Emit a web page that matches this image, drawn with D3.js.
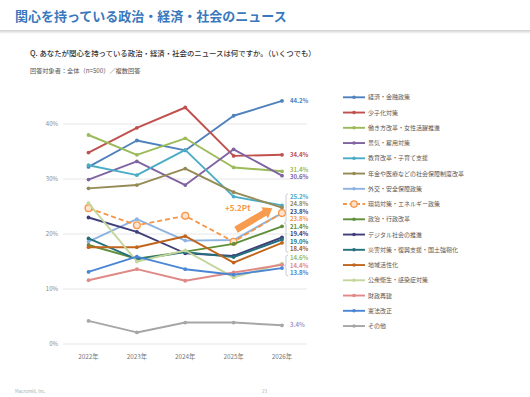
<!DOCTYPE html>
<html>
<head>
<meta charset="utf-8">
<script src="https://cdn.jsdelivr.net/npm/d3@7"></script>
<style>
  html, body { margin: 0; padding: 0; background: #fff; }
  svg { display: block; font-family: "Noto Sans CJK JP", "Noto Sans", sans-serif; }
</style>
</head>
<body>
<div id="chart"></div>
<script>
// Data
const years = ['2022年', '2023年', '2024年', '2025年', '2026年']
const seriesNames = [
  '経済・金融政策',
  '少子化対策',
  '働き方改革・女性活躍推進',
  '景気・雇用対策',
  '教育改革・子育て支援',
  '年金や医療などの社会保障制度改革',
  '外交・安全保障政策',
  '環境対策・エネルギー政策',
  '政治・行政改革',
  'デジタル社会の推進',
  '災害対策・復興支援・国土強靭化',
  '地域活性化',
  '公衆衛生・感染症対策',
  '財政再建',
  '憲法改正',
  'その他'
]
const seriesValues = [
  [32.2, 37.0, 35.2, 41.5, 44.2],
  [34.8, 39.3, 43.0, 34.2, 34.4],
  [38.0, 34.4, 37.4, 32.1, 31.4],
  [29.9, 33.2, 28.9, 35.4, 30.6],
  [32.5, 30.7, 35.3, 26.8, 25.2],
  [28.3, 28.9, 31.9, 27.6, 24.8],
  [18.6, 22.7, 18.8, 18.9, 23.8],
  [24.7, 21.6, 23.3, 18.6, 23.8],
  [18.0, 15.5, 16.8, 18.2, 21.4],
  [23.0, 20.4, 16.5, 16.0, 19.4],
  [19.2, 15.4, 16.7, 15.8, 19.0],
  [17.6, 17.6, 19.6, 14.8, 18.4],
  [25.6, 15.0, 17.0, 12.1, 14.6],
  [11.6, 13.6, 11.5, 13.0, 14.4],
  [13.1, 15.9, 13.6, 12.6, 13.8],
  [4.2, 2.1, 3.9, 3.9, 3.4]
]
const yTicks = [0, 10, 20, 30, 40]
const highlightIndex = 7   // 環境対策・エネルギー政策
const annotationText = '+5.2Pt'

// Styles
const lineColors = [
  '#4f81bd', '#c0504d', '#9bbb59', '#8064a2', '#4bacc6', '#948a54', '#8db3e2', '#f79646',
  '#5f8f3a', '#3f3d7a', '#25707e', '#c0651d', '#c3d69b', '#e08a88', '#4a86d4', '#a6a6a6'
]
const labelColors = [
  '#4f81bd', '#c0504d', '#9bbb59', '#8064a2', '#4bacc6', '#948a54', '#3a4a86', '#f79646',
  '#5f8f3a', '#3f3d7a', '#25707e', '#a0622a', '#9bbb59', '#e08a88', '#4a86d4', '#a29bc9'
]

const width = 530
const height = 397

const svg = d3.select('#chart')
  .append('svg')
  .attr('width', width)
  .attr('height', height)
  .attr('viewBox', [0, 0, width, height])

// Header
const defs = svg.append('defs')
const shadow = defs.append('linearGradient').attr('id', 'hdr-shadow').attr('x1', 0).attr('x2', 0).attr('y1', 0).attr('y2', 1)
shadow.append('stop').attr('offset', '0%').attr('stop-color', '#cfcfcf')
shadow.append('stop').attr('offset', '100%').attr('stop-color', '#ffffff')

svg.append('rect').attr('x', 0).attr('y', 30).attr('width', width).attr('height', 4).attr('fill', 'url(#hdr-shadow)')

svg.append('text')
  .attr('x', 15).attr('y', 21)
  .attr('fill', '#3a78bd')
  .attr('font-size', '13px')
  .attr('font-weight', '700')
  .text('関心を持っている政治・経済・社会のニュース')

svg.append('text')
  .attr('x', 30).attr('y', 56)
  .attr('fill', '#333')
  .attr('font-size', '7.4px')
  .attr('font-weight', '500')
  .text('Q. あなたが関心を持っている政治・経済・社会のニュースは何ですか。（いくつでも）')

svg.append('text')
  .attr('x', 30).attr('y', 73)
  .attr('fill', '#555')
  .attr('font-size', '6.2px')
  .text('回答対象者：全体（n=500）／複数回答')

// Scales
const x = d3.scalePoint().domain(years).range([88.5, 282])
const y = d3.scaleLinear().domain([0, 40]).range([344, 124])

// Grid + y labels
const grid = svg.append('g')
grid.selectAll('line')
  .data(yTicks)
  .join('line')
  .attr('x1', 63).attr('x2', 307)
  .attr('y1', d => y(d)).attr('y2', d => y(d))
  .attr('stroke', '#e6e6e6')
  .attr('stroke-width', 1)

grid.selectAll('text')
  .data(yTicks)
  .join('text')
  .attr('x', 58)
  .attr('y', d => y(d))
  .attr('dy', '0.35em')
  .attr('text-anchor', 'end')
  .attr('fill', '#888')
  .attr('font-size', '6px')
  .text(d => d + '%')

// x labels
svg.append('g').selectAll('text')
  .data(years)
  .join('text')
  .attr('x', d => x(d))
  .attr('y', 357)
  .attr('dy', '0.35em')
  .attr('text-anchor', 'middle')
  .attr('fill', '#777')
  .attr('font-size', '6.3px')
  .text(d => d)

// Series
const series = seriesNames.map((name, i) => ({
  name,
  i,
  values: seriesValues[i].map((v, j) => ({ year: years[j], v }))
}))

const line = d3.line().x(d => x(d.year)).y(d => y(d.v))

// Annotation arrow (parallel to the highlighted segment, offset upward)
const hl = seriesValues[highlightIndex]
const ax0 = x(years[3]), ay0 = y(hl[3]), ax1 = x(years[4]), ay1 = y(hl[4])
const lerp = (a, b, t) => a + (b - a) * t
const off = -10.5
const tail = [lerp(ax0, ax1, 0.05), lerp(ay0, ay1, 0.05) + off]
const tip = [lerp(ax0, ax1, 0.8), lerp(ay0, ay1, 0.8) + off]

const plot = svg.append('g')

series.forEach(s => {
  const g = plot.append('g')
  const color = lineColors[s.i]
  const isHl = s.i === highlightIndex
  g.append('path')
    .attr('d', line(s.values))
    .attr('fill', 'none')
    .attr('stroke', color)
    .attr('stroke-width', isHl ? 1.8 : 1.9)
    .attr('stroke-dasharray', isHl ? '5,3' : null)
    .attr('stroke-linejoin', 'round')
  g.selectAll('circle')
    .data(s.values)
    .join('circle')
    .attr('cx', d => x(d.year))
    .attr('cy', d => y(d.v))
    .attr('r', isHl ? 3.4 : 1.9)
    .attr('fill', isHl ? '#fde3cd' : color)
    .attr('stroke', isHl ? color : 'none')
    .attr('stroke-width', 1.3)
})

// Arrow
const adx = tip[0] - tail[0], ady = tip[1] - tail[1]
const alen = Math.hypot(adx, ady)
const ux = adx / alen, uy = ady / alen
const nx = -uy, ny = ux
const headLen = 9, headW = 6.5, bodyW = 3.4
const hb = [tip[0] - ux * headLen, tip[1] - uy * headLen]
const arrowPts = [
  [tail[0] + nx * bodyW, tail[1] + ny * bodyW],
  [hb[0] + nx * bodyW, hb[1] + ny * bodyW],
  [hb[0] + nx * headW, hb[1] + ny * headW],
  tip,
  [hb[0] - nx * headW, hb[1] - ny * headW],
  [hb[0] - nx * bodyW, hb[1] - ny * bodyW],
  [tail[0] - nx * bodyW, tail[1] - ny * bodyW]
]
svg.append('path')
  .attr('d', 'M' + arrowPts.map(p => p.join(',')).join('L') + 'Z')
  .attr('fill', '#f79646')
  .attr('opacity', 0.95)

svg.append('text')
  .attr('x', tail[0] - 11)
  .attr('y', tail[1] - 19)
  .attr('fill', '#f79646')
  .attr('font-size', '8px')
  .attr('font-weight', '700')
  .text(annotationText)

// End labels with simple cluster dodge
const gap = 7.5
const endLabels = series.map(s => ({
  i: s.i,
  v: seriesValues[s.i][4],
  target: y(seriesValues[s.i][4])
})).sort((a, b) => a.target - b.target || a.i - b.i)

let clusters = endLabels.map(l => ({ items: [l] }))
const place = c => {
  const mean = d3.mean(c.items, d => d.target)
  c.top = mean - (c.items.length - 1) * gap / 2
  c.bottom = c.top + (c.items.length - 1) * gap
}
clusters.forEach(place)
let merged = true
while (merged) {
  merged = false
  for (let k = 0; k < clusters.length - 1; k++) {
    if (clusters[k + 1].top - clusters[k].bottom < gap) {
      clusters[k].items = clusters[k].items.concat(clusters[k + 1].items)
      clusters.splice(k + 1, 1)
      place(clusters[k])
      merged = true
      break
    }
  }
}
clusters.forEach(c => c.items.forEach((d, k) => { d.ly = c.top + k * gap }))

const labelX = 290
svg.append('g').selectAll('text')
  .data(endLabels)
  .join('text')
  .attr('x', labelX)
  .attr('y', d => d.ly)
  .attr('dy', '0.35em')
  .attr('fill', d => labelColors[d.i])
  .attr('font-size', '6px')
  .attr('font-weight', '600')
  .text(d => d.v.toFixed(1) + '%')

// Brackets for the crowded groups
clusters.filter(c => c.items.length >= 3).forEach(c => {
  const t = c.top - 3, b = c.bottom + 3, m = (t + b) / 2
  const bx = 286
  svg.append('path')
    .attr('d', `M${bx + 2},${t} Q${bx},${t} ${bx},${t + 2} L${bx},${m - 2} Q${bx},${m} ${bx - 2},${m} Q${bx},${m} ${bx},${m + 2} L${bx},${b - 2} Q${bx},${b} ${bx + 2},${b}`)
    .attr('fill', 'none')
    .attr('stroke', '#b7bfcc')
    .attr('stroke-width', 0.8)
})

// Legend
const legend = svg.append('g')
const rowY = i => 97.3 + i * 15.25
series.forEach(s => {
  const color = lineColors[s.i]
  const isHl = s.i === highlightIndex
  const row = legend.append('g').attr('transform', `translate(0,${rowY(s.i)})`)
  row.append('line')
    .attr('x1', 343).attr('x2', 365)
    .attr('stroke', color)
    .attr('stroke-width', 1.9)
    .attr('stroke-dasharray', isHl ? '4,2.5' : null)
  row.append('circle')
    .attr('cx', 354).attr('cy', 0)
    .attr('r', isHl ? 3.2 : 1.8)
    .attr('fill', isHl ? '#fde3cd' : color)
    .attr('stroke', isHl ? color : 'none')
    .attr('stroke-width', 1.3)
  row.append('text')
    .attr('x', 368)
    .attr('dy', '0.35em')
    .attr('fill', '#555')
    .attr('font-size', '6px')
    .text(s.name)
})

// Footer
svg.append('text')
  .attr('x', 15).attr('y', 393)
  .attr('fill', '#aaa')
  .attr('font-size', '4.5px')
  .text('Macromill, Inc.')
svg.append('text')
  .attr('x', 262).attr('y', 393)
  .attr('fill', '#aaa')
  .attr('font-size', '4.5px')
  .text('23')
</script>
</body>
</html>
